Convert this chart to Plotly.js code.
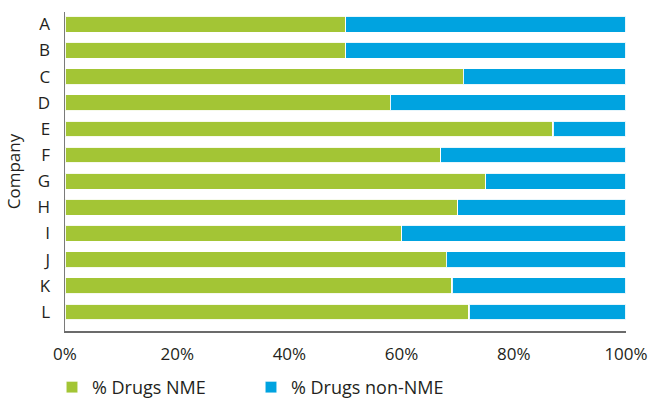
<!DOCTYPE html>
<html>
<head>
<meta charset="utf-8">
<script src="https://cdn.plot.ly/plotly-3.0.1.min.js"></script>
<style>html,body{margin:0;padding:0;background:#fff;}#chart{width:654px;height:401px;}</style>
</head>
<body>
<div id="chart"></div>
<script>
const companies = ["A","B","C","D","E","F","G","H","I","J","K","L"];
const pctNME = [50, 50, 71, 58, 87, 67, 75, 70, 60, 68, 69, 72];
const pctNonNME = [50, 50, 29, 42, 13, 33, 25, 30, 40, 32, 31, 28];
const xTickVals = [0, 20, 40, 60, 80, 100];
const xTickText = ["0%", "20%", "40%", "60%", "80%", "100%"];

const green = "#A3C535";
const blue = "#00A3E0";
const textColor = "#231F20";
const fontFamily = "'Open Sans', 'Noto Sans', sans-serif";

const traces = [
  {
    type: "bar", orientation: "h", name: "% Drugs NME",
    y: companies, x: pctNME,
    marker: {color: green, line: {color: "rgba(255,255,255,0.9)", width: 1.2}},
    hoverinfo: "skip"
  },
  {
    type: "bar", orientation: "h", name: "% Drugs non-NME",
    y: companies, x: pctNonNME,
    marker: {color: blue, line: {color: "rgba(255,255,255,0.9)", width: 1.2}},
    hoverinfo: "skip"
  }
];

const layout = {
  width: 654, height: 401,
  margin: {l: 65, r: 27.5, t: 12, b: 70, pad: 0},
  paper_bgcolor: "#fff", plot_bgcolor: "#fff",
  barmode: "stack",
  bargap: 0.39,
  font: {family: fontFamily, color: textColor, size: 17},
  showlegend: true,
  legend: {
    orientation: "h", xref: "container", yref: "container",
    x: 0.0795, xanchor: "left", y: 0.034, yanchor: "middle",
    font: {size: 18, color: textColor}, entrywidth: 154, entrywidthmode: "pixels",
    traceorder: "normal", bgcolor: "rgba(0,0,0,0)", tracegroupgap: 0
  },
  xaxis: {
    range: [0, 100], tickvals: xTickVals, ticktext: xTickText,
    showgrid: false, zeroline: false, showline: true, linecolor: "#6b6b6b", linewidth: 1.5,
    ticks: "outside", ticklen: 7, tickcolor: "rgba(0,0,0,0)",
    tickfont: {size: 17, color: textColor}, fixedrange: true, automargin: false
  },
  yaxis: {
    type: "category", categoryorder: "array", categoryarray: companies,
    range: [11.73, -0.47],
    showgrid: false, zeroline: false, showline: true, linecolor: "#7a7a7a", linewidth: 1.5,
    ticks: "outside", ticklen: 10, tickcolor: "rgba(0,0,0,0)",
    tickfont: {size: 17, color: textColor},
    title: {text: "Company", font: {size: 17, color: textColor}, standoff: 12},
    automargin: false, fixedrange: true
  }
};

Plotly.newPlot("chart", traces, layout, {displayModeBar: false, staticPlot: true});
</script>
</body>
</html>
